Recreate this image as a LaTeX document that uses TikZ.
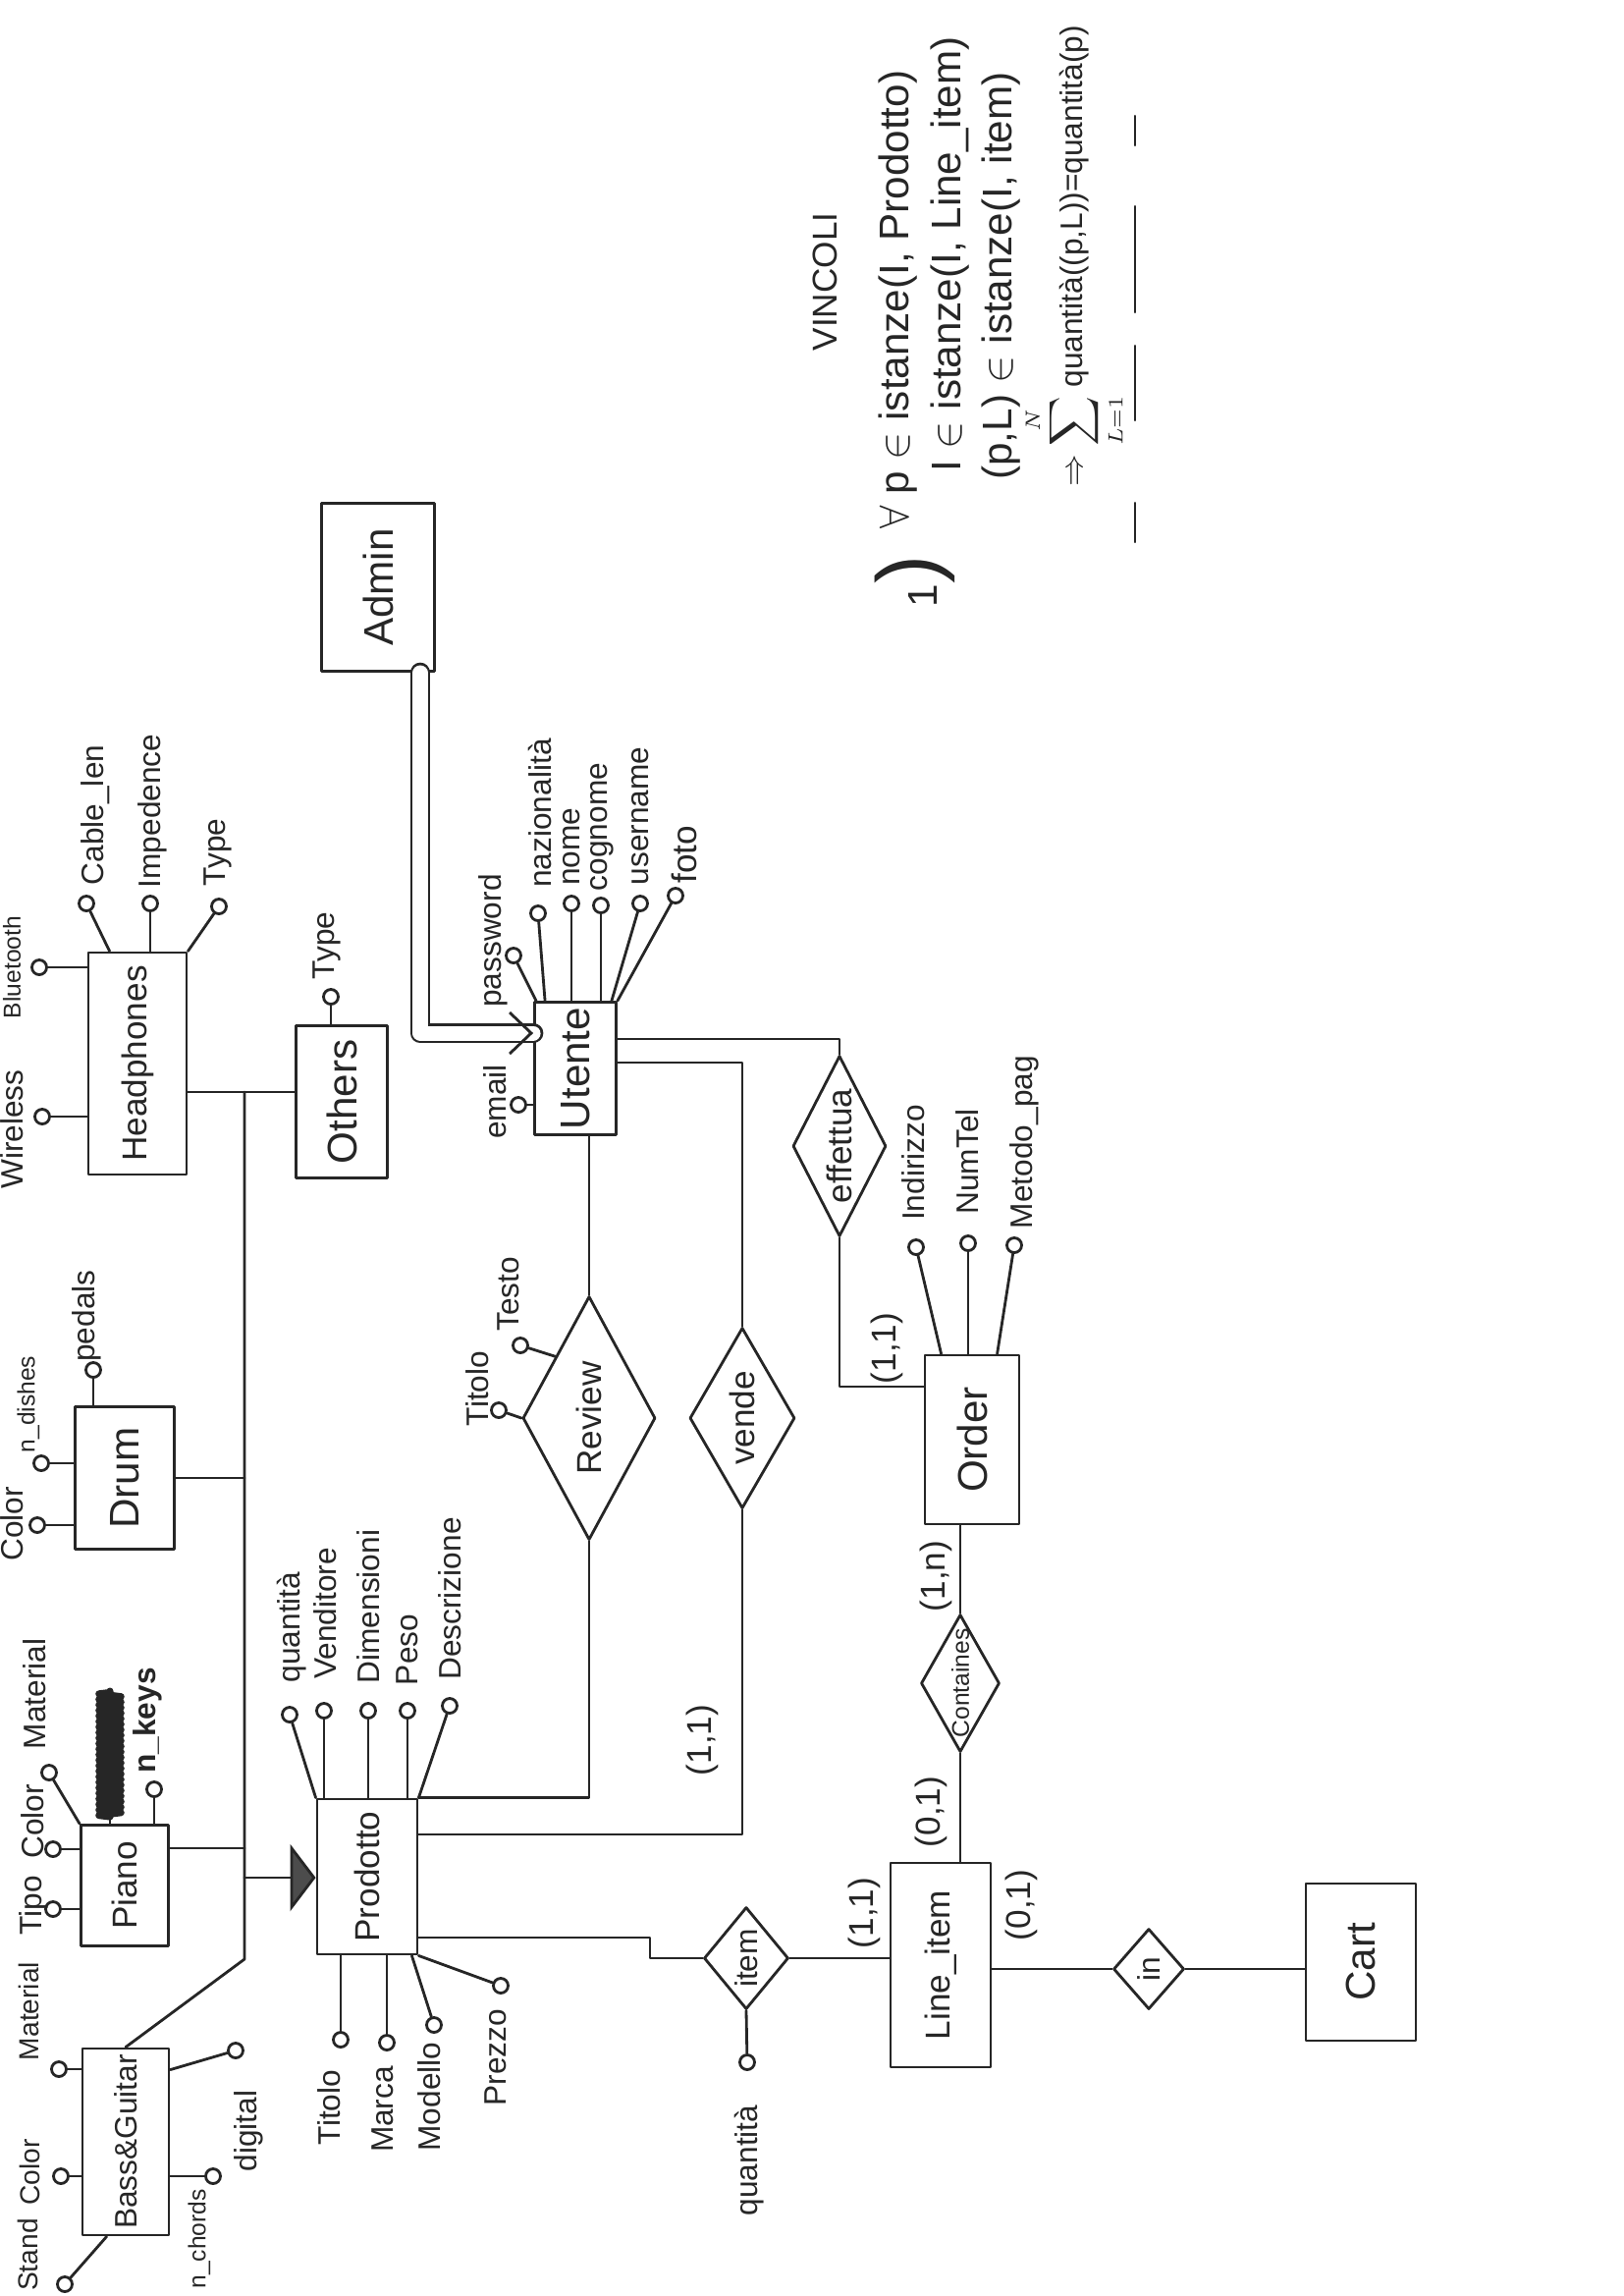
\documentclass[tikz,border=0pt]{standalone}
\usepackage{graphicx}
\usepackage{fontspec}
\setmainfont{Liberation Sans}
\usetikzlibrary{shapes.geometric,arrows.meta,decorations.pathmorphing}
\tikzset{
  ent/.style={draw,rectangle,inner sep=0pt,font=\large},
  rel/.style={draw,diamond,inner sep=0pt},
  att/.style={draw,circle,inner sep=0pt,minimum size=0.15cm},
  lab/.style={rotate=90,inner sep=0pt,font=\small},
  card/.style={rotate=90,inner sep=0pt,font=\normalsize},
}
\newcommand{\vt}[1]{\rotatebox{90}{#1}}
\begin{document}
\begin{tikzpicture}[x=0.01cm,y=-0.01cm,line width=0.8pt,color=black!85,line cap=round,line join=round]
\useasboundingbox (0,0) rectangle (1654,2338);

% entita
\node[ent,minimum width=1.15cm,minimum height=1.71cm] (admin) at (385,598) {\vt{Admin}};
\node[ent,font=\normalsize,minimum width=1cm,minimum height=2.26cm] (headphones) at (140,1083) {\vt{Headphones}};
\node[ent,minimum width=0.93cm,minimum height=1.55cm] (others) at (348,1122) {\vt{Others}};
\node[ent,minimum width=0.83cm,minimum height=1.35cm] (utente) at (586,1088) {\vt{Utente}};
\node[ent,minimum width=1.01cm,minimum height=1.45cm] (drum) at (127,1505) {\vt{Drum}};
\node[ent,font=\normalsize,minimum width=0.89cm,minimum height=1.23cm] (piano) at (127,1920) {\vt{Piano}};
\node[ent,font=\small,minimum width=0.88cm,minimum height=1.9cm] (bassguitar) at (128,2181) {\vt{Bass\&Guitar}};
\node[ent,font=\normalsize,minimum width=1.02cm,minimum height=1.58cm] (prodotto) at (374,1911) {\vt{Prodotto}};
\node[ent,minimum width=0.96cm,minimum height=1.72cm] (order) at (990,1466) {\vt{Order}};
\node[ent,font=\normalsize,minimum width=1.02cm,minimum height=2.08cm] (lineitem) at (958,2001) {\vt{Line\_item}};
\node[ent,minimum width=1.12cm,minimum height=1.6cm] (cart) at (1386,1998) {\vt{Cart}};

% relazioni
\node[rel,minimum width=1.35cm,minimum height=2.48cm] (review) at (600,1444) {};
\node[lab,font=\normalsize] (lreview) at (review) {Review};
\node[rel,minimum width=1.07cm,minimum height=1.84cm] (vende) at (756,1444) {};
\node[lab,font=\normalsize] (lvende) at (vende) {vende};
\node[rel,minimum width=0.95cm,minimum height=1.84cm] (effettua) at (855,1167) {};
\node[lab,font=\normalsize] (leffettua) at (effettua) {effettua};
\node[rel,minimum width=0.8cm,minimum height=1.4cm] (containes) at (978,1714) {};
\node[lab,font=\scriptsize] (lcontaines) at (containes) {Containes};
\node[rel,minimum width=0.86cm,minimum height=1.04cm] (item) at (760,1994) {};
\node[lab] (litem) at (item) {item};
\node[rel,minimum width=0.72cm,minimum height=0.82cm] (inrel) at (1170,2005) {};
\node[lab] (lin) at (inrel) {in};

% gerarchia
\coordinate (hub) at (249,1112);
\coordinate (bend) at (249,1995);
\coordinate (pianojoin) at (249,1882);
\coordinate (isajoin) at (249,1912);
\draw (headphones.east |- hub) -- (others.west |- hub);
\draw (hub) -- (bend) -- (bassguitar.north);
\draw (drum.east) -- (drum.east -| hub);
\draw (pianojoin -| piano.east) -- (pianojoin);
\draw[-{Triangle[length=0.26cm,width=0.68cm,fill=black!70]}] (isajoin) -- (isajoin -| prodotto.west);

% admin
\coordinate (admleg) at (428,1052);
\coordinate (admtip) at (admleg -| utente.west);
\draw[double,double distance=0.15cm] (admleg |- admin.south) -- (admleg) -- (admtip);
\draw[-{Straight Barb[length=0.22cm,width=0.42cm]}] ([xshift=-0.03cm]admtip) -- (admtip);

% collegamenti
\coordinate (ue) at (700,1058);
\coordinate (uv) at (700,1082);
\coordinate (vp) at (600,1868);
\coordinate (pi) at (662,1973);
\coordinate (eo) at (900,1412);
\draw (utente.east |- ue) -| (effettua.north);
\draw (utente.east |- uv) -| (vende.north);
\draw (review.north |- utente.south) -- (review.north);
\draw (review.south) |- (prodotto.north east);
\draw (vende.south) |- (prodotto.east |- vp);
\draw (prodotto.east |- pi) -- (pi) |- (item.west);
\draw (item.east) -- (item.east -| lineitem.west);
\draw (containes.south) -- (containes.south |- lineitem.north);
\draw (containes.north) -- (containes.north |- order.south);
\draw (effettua.south) |- (order.west |- eo);
\draw (lineitem.east |- inrel.west) -- (inrel.west);
\draw (inrel.east) -- (inrel.east -| cart.west);

\node[card] (c1) at (903,1373) {(1,1)};
\node[card] (c2) at (953,1605) {(1,n)};
\node[card] (c3) at (948,1845) {(0,1)};
\node[card] (c4) at (880,1948) {(1,1)};
\node[card] (c5) at (1040,1940) {(0,1)};
\node[card] (c6) at (715,1772) {(1,1)};

% headphones
\node[att] (hblue) at (40,985) {};
\node[att] (hwire) at (43,1137) {};
\node[att] (hcable) at (88,920) {};
\node[att] (himp) at (153,920) {};
\node[att] (htype) at (223,923) {};
\draw (headphones.west |- hblue) -- (hblue);
\draw (headphones.west |- hwire) -- (hwire);
\draw ([xshift=0.23cm]headphones.north west) -- (hcable);
\draw (himp |- headphones.north) -- (himp);
\draw (headphones.north east) -- (htype);
\node[lab,font=\scriptsize] (lhblue) at (12,985) {Bluetooth};
\node[lab] (lhwire) at (12,1150) {Wireless};
\node[lab] (lhcable) at (97,830) {Cable\_len};
\node[lab] (lhimp) at (155,826) {Impedence};
\node[lab] (lhtype) at (222,868) {Type};

% others
\node[att] (otype) at (337,1015) {};
\draw (otype |- others.north) -- (otype);
\node[lab] (lotype) at (333,963) {Type};

% drum
\node[att] (dcolor) at (38,1553) {};
\node[att] (ddish) at (42,1490) {};
\node[att] (dpedal) at (95,1395) {};
\draw (drum.west |- dcolor) -- (dcolor);
\draw (drum.west |- ddish) -- (ddish);
\draw (dpedal |- drum.north) -- (dpedal);
\node[lab] (ldcolor) at (12,1552) {Color};
\node[lab,font=\scriptsize] (lddish) at (29,1430) {n\_dishes};
\node[lab] (ldpedal) at (88,1340) {pedals};

% piano
\node[att] (ptipo) at (54,1944) {};
\node[att] (pcolor) at (54,1883) {};
\node[att] (pmat) at (50,1805) {};
\node[att] (pkeys) at (157,1822) {};
\coordinate (pscr) at (112,1850);
\coordinate (pscrtop) at (112,1722);
\draw (piano.west |- ptipo) -- (ptipo);
\draw (piano.west |- pcolor) -- (pcolor);
\draw (piano.north west) -- (pmat);
\draw (pkeys |- piano.north) -- (pkeys);
\draw (pscr |- piano.north) -- (pscr);
\draw[line width=2pt,decorate,decoration={zigzag,segment length=1.6pt,amplitude=3.2pt}] (pscr) -- (pscrtop);
\node[lab] (lptipo) at (34,1940) {Tipo};
\node[lab] (lpcolor) at (33,1855) {Color};
\node[lab] (lpmat) at (35,1725) {Material};
\node[lab,font=\small\bfseries] (lpkeys) at (150,1752) {n\_keys};

% bass & guitar
\node[att] (bmat) at (60,2107) {};
\node[att] (bcolor) at (62,2216) {};
\node[att] (bstand) at (66,2326) {};
\node[att] (bdig) at (240,2088) {};
\node[att] (bchord) at (217,2216) {};
\draw (bassguitar.west |- bmat) -- (bmat);
\draw (bassguitar.west |- bcolor) -- (bcolor);
\draw ([xshift=0.26cm]bassguitar.south west) -- (bstand);
\draw ([yshift=-0.23cm]bassguitar.north east) -- (bdig);
\draw (bassguitar.east |- bchord) -- (bchord);
\node[lab,font=\footnotesize] (lbmat) at (29,2048) {Material};
\node[lab,font=\footnotesize] (lbcolor) at (30,2212) {Color};
\node[lab,font=\footnotesize] (lbstand) at (28,2296) {Stand};
\node[lab] (lbdig) at (253,2170) {digital};
\node[lab,font=\scriptsize] (lbchord) at (203,2280) {n\_chords};

% prodotto
\node[att] (pq) at (295,1746) {};
\node[att] (pvend) at (330,1742) {};
\node[att] (pdim) at (375,1742) {};
\node[att] (ppeso) at (415,1742) {};
\node[att] (pdesc) at (458,1737) {};
\node[att] (ptit) at (347,2077) {};
\node[att] (pmarca) at (394,2080) {};
\node[att] (pmod) at (442,2062) {};
\node[att] (pprezzo) at (510,2022) {};
\draw (prodotto.north west) -- (pq);
\draw (pvend |- prodotto.north) -- (pvend);
\draw (pdim |- prodotto.north) -- (pdim);
\draw (ppeso |- prodotto.north) -- (ppeso);
\draw (prodotto.north east) -- (pdesc);
\draw (ptit |- prodotto.south) -- (ptit);
\draw (pmarca |- prodotto.south) -- (pmarca);
\draw ([xshift=-0.07cm]prodotto.south east) -- (pmod);
\draw (prodotto.south east) -- (pprezzo);
\node[lab] (lpq) at (297,1657) {quantità};
\node[lab] (lpvend) at (331,1643) {Venditore};
\node[lab] (lpdim) at (375,1636) {Dimensioni};
\node[lab] (lppeso) at (415,1680) {Peso};
\node[lab] (lpdesc) at (458,1628) {Descrizione};
\node[lab] (lptit) at (335,2146) {Titolo};
\node[lab] (lpmarca) at (390,2148) {Marca};
\node[lab] (lpmod) at (437,2135) {Modello};
\node[lab] (lpprezzo) at (505,2095) {Prezzo};

% utente
\node[att] (uemail) at (528,1125) {};
\node[att] (upass) at (523,973) {};
\node[att] (unaz) at (548,930) {};
\node[att] (unome) at (582,920) {};
\node[att] (ucogn) at (612,922) {};
\node[att] (uuser) at (652,920) {};
\node[att] (ufoto) at (688,912) {};
\draw (utente.west |- uemail) -- (uemail);
\draw ([xshift=0.03cm]utente.north west) -- (upass);
\draw ([xshift=0.12cm]utente.north west) -- (unaz);
\draw (unome |- utente.north) -- (unome);
\draw (ucogn |- utente.north) -- (ucogn);
\draw ([xshift=-0.06cm]utente.north east) -- (uuser);
\draw (utente.north east) -- (ufoto);
\node[lab] (luemail) at (504,1122) {email};
\node[lab] (lupass) at (502,958) {password};
\node[lab] (lunaz) at (550,828) {nazionalità};
\node[lab] (lunome) at (582,862) {nome};
\node[lab] (lucogn) at (613,842) {cognome};
\node[lab] (luuser) at (652,831) {username};
\node[lab,font=\normalsize] (lufoto) at (697,870) {foto};

% order
\node[att] (oind) at (933,1270) {};
\node[att] (onum) at (986,1266) {};
\node[att] (ometodo) at (1033,1268) {};
\draw ([xshift=0.18cm]order.north west) -- (oind);
\draw (onum |- order.north) -- (onum);
\draw ([xshift=0.75cm]order.north west) -- (ometodo);
\node[lab] (loind) at (930,1184) {Indirizzo};
\node[lab] (lonum) at (985,1183) {NumTel};
\node[lab] (lometodo) at (1043,1163) {Metodo\_pag};

% review, item
\node[att] (rtit) at (508,1436) {};
\node[att] (rtesto) at (530,1370) {};
\draw (review.west) -- (rtit);
\draw (review.north west) -- (rtesto);
\node[lab] (lrtit) at (486,1414) {Titolo};
\node[lab] (lrtesto) at (518,1318) {Testo};
\node[att] (iq) at (761,2100) {};
\draw (item.south) -- (iq);
\node[lab] (liq) at (763,2200) {quantità};

% vincoli
\node[lab,font=\normalsize] (vinc) at (840,287) {VINCOLI};
\node[lab,font=\large] (v0) at (932,592) {1{\Huge)}};
\node[lab,font=\large,anchor=west] (v1) at (915,540) {$\forall$ p $\in$ istanze(I, Prodotto)};
\node[lab,font=\large,anchor=west] (v2) at (968,482) {I $\in$ istanze(I, Line\_item)};
\node[lab,font=\large,anchor=west] (v3) at (1020,490) {(p,L) $\in$ istanze(I, item)};
\node[lab,font=\small,anchor=west] (v4) at (1094,497) {$\Rightarrow\displaystyle\sum_{L=1}^{N}$ quantità((p,L))=quantità(p)};
\draw[line width=0.6pt] (1156,118) -- (1156,148) (1156,210) -- (1156,318) (1156,352) -- (1156,428) (1156,512) -- (1156,552);
\end{tikzpicture}
\end{document}
